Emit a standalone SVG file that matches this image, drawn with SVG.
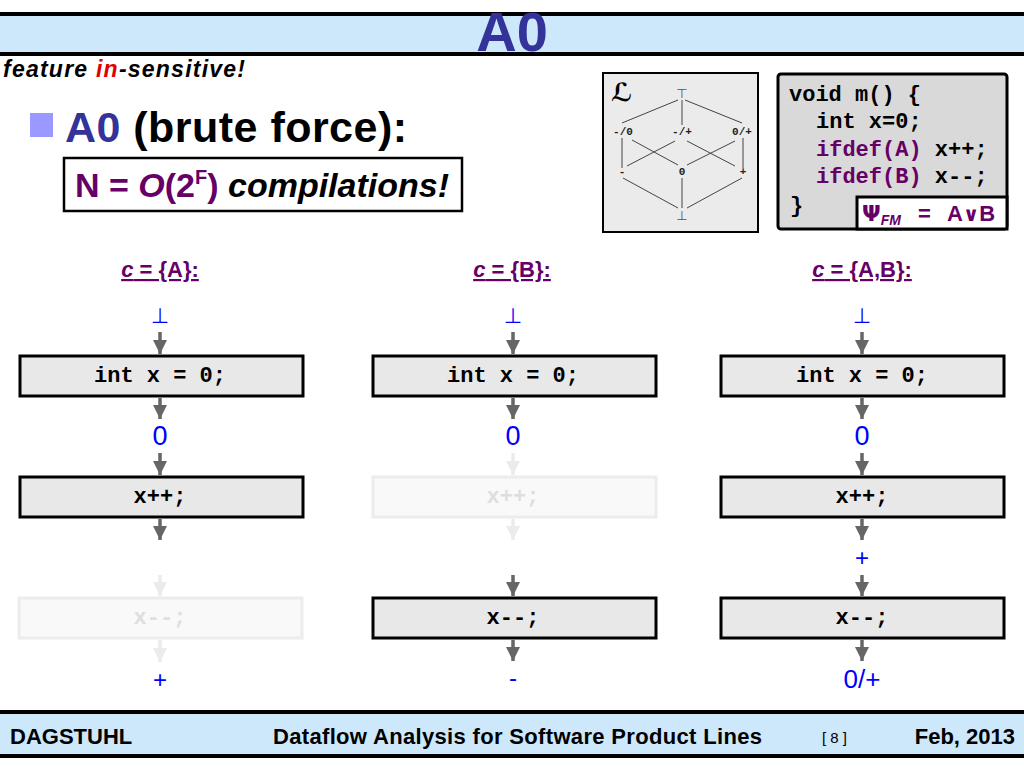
<svg xmlns="http://www.w3.org/2000/svg" width="1024" height="768" viewBox="0 0 1024 768">
<defs>
<style>
.band{fill:#cde8fb}
.bar{fill:#000}
.sans{font-family:"Liberation Sans",Arial,sans-serif}
.box{fill:#e8e8e8;stroke:#000;stroke-width:3}
.fbox{fill:#f9f9f9;stroke:#ececec;stroke-width:3}
.code{font-family:"Liberation Mono","Courier New",monospace;font-weight:bold;font-size:22px;fill:#000}
.fcode{font-family:"Liberation Mono","Courier New",monospace;font-weight:bold;font-size:22px;fill:#dedede}
.val{font-family:"Liberation Sans",Arial,sans-serif;fill:#0000ff;text-anchor:middle}
.bot{font-family:"DejaVu Sans",sans-serif;fill:#0000ff;text-anchor:middle;font-size:21px}
.arr{stroke:#666;stroke-width:3.5;fill:none}
.farr{stroke:#ebebeb;stroke-width:3.5;fill:none}
.hd{font-family:"Liberation Sans",Arial,sans-serif;font-weight:bold;font-size:22px;fill:#660066;text-anchor:middle;text-decoration:underline}
.lat{stroke:#444;stroke-width:1;fill:none}
.ll{font-family:"Liberation Mono","Courier New",monospace;font-weight:bold;font-size:11px;fill:#222;text-anchor:middle}
.foot{font-family:"Liberation Sans",Arial,sans-serif;font-weight:bold;font-size:22px;fill:#000}
.psi{font-family:"Liberation Sans",Arial,sans-serif;font-weight:bold;font-size:22px;fill:#660066}
</style>
<marker id="ah" viewBox="0 0 10 10" refX="10" refY="5" markerWidth="4" markerHeight="4.4" orient="auto" markerUnits="strokeWidth">
<path d="M0,0 L10,5 L0,10 Z" fill="#666"/>
</marker>
<marker id="fah" viewBox="0 0 10 10" refX="10" refY="5" markerWidth="4" markerHeight="4.4" orient="auto" markerUnits="strokeWidth">
<path d="M0,0 L10,5 L0,10 Z" fill="#ebebeb"/>
</marker>
</defs>
<rect width="1024" height="768" fill="#fff"/>

<g id="header">
<rect class="bar" x="0" y="12" width="1024" height="4"/>
<rect class="band" x="0" y="16" width="1024" height="36"/>
<rect class="bar" x="0" y="52" width="1024" height="4"/>
<text x="512" y="51" class="sans" font-weight="bold" font-size="56" fill="#333399" text-anchor="middle">A0</text>
</g>

<g id="subtitle">
<text x="3" y="77" class="sans" font-weight="bold" font-style="italic" font-size="23" textLength="242">feature <tspan fill="#e00000">in</tspan>-sensitive!</text>
</g>

<g id="bullet">
<rect x="30" y="113" width="23" height="24" fill="#9999ff"/>
<text x="65" y="142" class="sans" font-weight="bold" font-size="43" textLength="342"><tspan fill="#333399">A0</tspan> (brute force):</text>
</g>

<g id="complexity">
<rect x="64" y="158" width="398" height="53" fill="#fff" stroke="#000" stroke-width="2.5"/>
<text x="75" y="197" class="sans" font-weight="bold" font-size="34" fill="#660066">N = <tspan font-style="italic">O</tspan>(2<tspan font-size="20" dy="-13">F</tspan><tspan dy="13">)</tspan> <tspan fill="#000" font-style="italic">compilations!</tspan></text>
</g>

<g id="lattice">
<rect x="603" y="73" width="155" height="159" fill="#ebebeb" stroke="#000" stroke-width="2"/>
<text x="611" y="101" font-family="DejaVu Serif,DejaVu Sans,serif" font-size="25" font-weight="bold" fill="#000">ℒ</text>
<text x="682" y="98" font-family="DejaVu Sans,sans-serif" font-size="13" fill="#555" text-anchor="middle">⊤</text>
<text x="682" y="220" font-family="DejaVu Sans,sans-serif" font-size="13" fill="#555" text-anchor="middle">⊥</text>
<text x="623" y="135" class="ll">-/0</text>
<text x="682" y="135" class="ll">-/+</text>
<text x="742" y="135" class="ll">0/+</text>
<text x="622" y="175" class="ll">-</text>
<text x="682" y="175" class="ll">0</text>
<text x="743" y="175" class="ll">+</text>
<path class="lat" d="M678,100 L622,123 M685,100 L742,123 M682,100 L682,125 M622,138 L622,168 M632,140 L678,165 M675,141 L627,166 M687,141 L735,166 M735,141 L687,165 M743,138 L743,168 M623,178 L678,208 M682,178 L682,208 M742,178 L687,208"/>
</g>

<g id="code">
<rect x="778" y="74" width="229" height="155" rx="3" fill="#d9d9d9" stroke="#000" stroke-width="3"/>
<text x="789" y="101" class="code">void m() {</text>
<text x="816" y="128" class="code">int x=0;</text>
<text x="816" y="156" class="code"><tspan fill="#660066">ifdef(A)</tspan> x++;</text>
<text x="816" y="183" class="code"><tspan fill="#660066">ifdef(B)</tspan> x--;</text>
<text x="790" y="212" class="code">}</text>
<path d="M857,229 L857,197 L1007,197 L1007,229 Z" fill="#fff" stroke="#000" stroke-width="3"/>
<text x="862" y="221" class="psi"><tspan font-family="DejaVu Sans,sans-serif">Ψ</tspan><tspan font-size="14" font-style="italic" dy="4">FM</tspan></text>
<text x="918" y="221" class="psi">=</text>
<text x="947" y="221" class="psi">A<tspan font-family="DejaVu Sans,sans-serif" font-size="20">∨</tspan>B</text>
</g>

<g id="headers">
<text x="160" y="277" class="hd"><tspan font-style="italic">c</tspan> = {A}:</text>
<text x="512" y="277" class="hd"><tspan font-style="italic">c</tspan> = {B}:</text>
<text x="862" y="277" class="hd"><tspan font-style="italic">c</tspan> = {A,B}:</text>
</g>

<g id="col1">
<text x="160" y="323" class="bot">⊥</text>
<rect class="box" x="20" y="356" width="283" height="40"/>
<text x="160" y="382" class="code" text-anchor="middle">int x = 0;</text>
<text x="160" y="445" class="val" font-size="27">0</text>
<rect class="box" x="20" y="477" width="283" height="40"/>
<text x="160" y="503" class="code" text-anchor="middle">x++;</text>
<rect class="fbox" x="19" y="598" width="283" height="40"/>
<text x="160" y="624" class="fcode" text-anchor="middle">x--;</text>
<text x="160" y="688" class="val" font-size="24">+</text>
</g>

<g id="col2">
<text x="513" y="323" class="bot">⊥</text>
<rect class="box" x="373" y="356" width="283" height="40"/>
<text x="513" y="382" class="code" text-anchor="middle">int x = 0;</text>
<text x="513" y="445" class="val" font-size="27">0</text>
<rect class="fbox" x="373" y="477" width="283" height="40"/>
<text x="513" y="503" class="fcode" text-anchor="middle">x++;</text>
<rect class="box" x="373" y="598" width="283" height="40"/>
<text x="513" y="624" class="code" text-anchor="middle">x--;</text>
<text x="513" y="686" class="val" font-size="24">-</text>
</g>

<g id="col3">
<text x="862" y="323" class="bot">⊥</text>
<rect class="box" x="721" y="356" width="283" height="40"/>
<text x="862" y="382" class="code" text-anchor="middle">int x = 0;</text>
<text x="862" y="445" class="val" font-size="27">0</text>
<rect class="box" x="721" y="477" width="283" height="40"/>
<text x="862" y="503" class="code" text-anchor="middle">x++;</text>
<text x="862" y="566" class="val" font-size="24">+</text>
<rect class="box" x="721" y="598" width="283" height="40"/>
<text x="862" y="624" class="code" text-anchor="middle">x--;</text>
<text x="862" y="688" class="val" font-size="26">0/+</text>
</g>

<g id="connectors">
<line class="arr" marker-end="url(#ah)" x1="160" y1="332" x2="160" y2="354"/>
<line class="arr" marker-end="url(#ah)" x1="160" y1="398" x2="160" y2="419"/>
<line class="arr" marker-end="url(#ah)" x1="160" y1="453" x2="160" y2="475"/>
<line class="arr" marker-end="url(#ah)" x1="160" y1="519" x2="160" y2="540"/>
<line class="farr" marker-end="url(#fah)" x1="160" y1="575" x2="160" y2="596"/>
<line class="farr" marker-end="url(#fah)" x1="160" y1="640" x2="160" y2="662"/>

<line class="arr" marker-end="url(#ah)" x1="513" y1="332" x2="513" y2="354"/>
<line class="arr" marker-end="url(#ah)" x1="513" y1="398" x2="513" y2="419"/>
<line class="farr" marker-end="url(#fah)" x1="513" y1="453" x2="513" y2="475"/>
<line class="farr" marker-end="url(#fah)" x1="513" y1="519" x2="513" y2="540"/>
<line class="arr" marker-end="url(#ah)" x1="513" y1="575" x2="513" y2="596"/>
<line class="arr" marker-end="url(#ah)" x1="513" y1="640" x2="513" y2="661"/>

<line class="arr" marker-end="url(#ah)" x1="862" y1="332" x2="862" y2="354"/>
<line class="arr" marker-end="url(#ah)" x1="862" y1="398" x2="862" y2="419"/>
<line class="arr" marker-end="url(#ah)" x1="862" y1="453" x2="862" y2="475"/>
<line class="arr" marker-end="url(#ah)" x1="862" y1="519" x2="862" y2="540"/>
<line class="arr" marker-end="url(#ah)" x1="862" y1="575" x2="862" y2="596"/>
<line class="arr" marker-end="url(#ah)" x1="862" y1="640" x2="862" y2="661"/>
</g>

<g id="footer">
<rect class="bar" x="0" y="710" width="1024" height="4"/>
<rect class="band" x="0" y="714" width="1024" height="40"/>
<rect class="bar" x="0" y="754" width="1024" height="4"/>
<text x="10" y="744" class="foot">DAGSTUHL</text>
<text x="273" y="744" class="foot" textLength="489">Dataflow Analysis for Software Product Lines</text>
<text x="822" y="743" class="sans" font-size="15" fill="#000">[ 8 ]</text>
<text x="1015" y="744" class="foot" text-anchor="end">Feb, 2013</text>
</g>
</svg>
